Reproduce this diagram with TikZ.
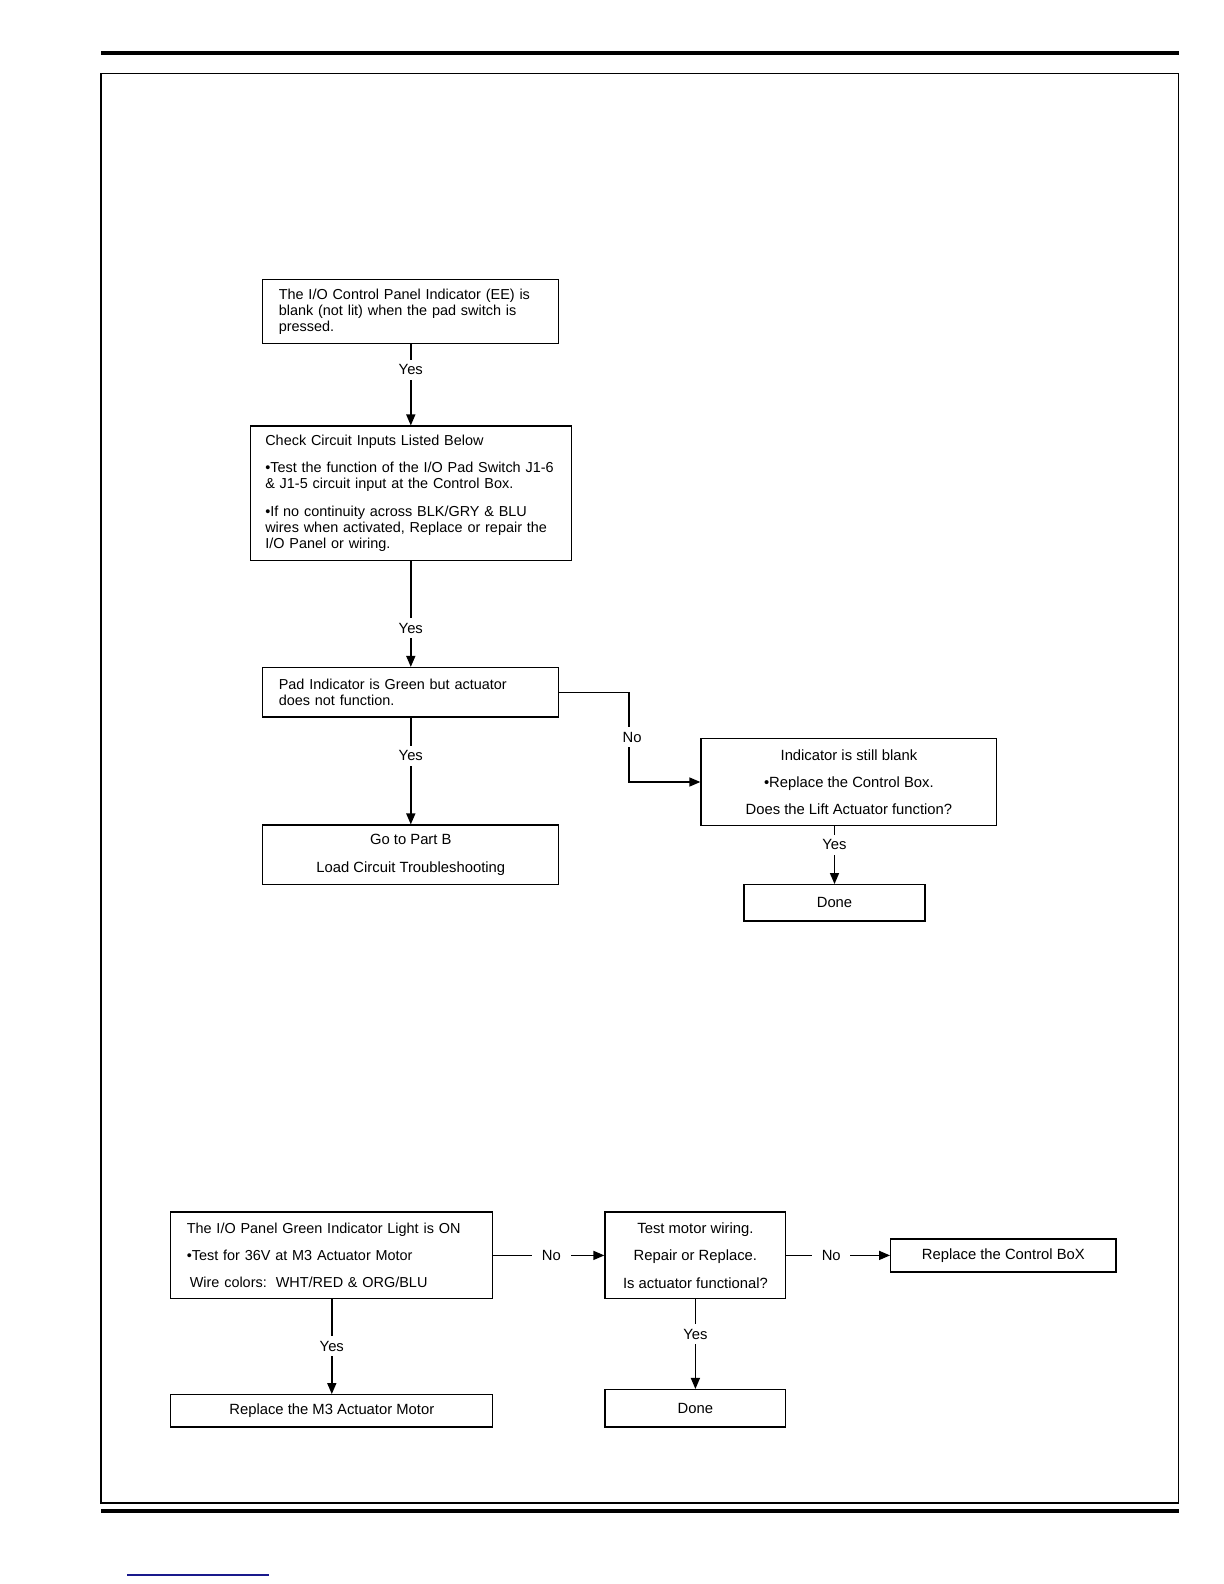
\documentclass[tikz,border=0pt]{standalone}
\usepackage{fontspec}
\setmainfont{Liberation Sans}
\usetikzlibrary{arrows.meta}
\definecolor{navyline}{RGB}{25,25,140}
\newcommand{\fsz}{\fontsize{7.4}{8.1}\selectfont}
\newcommand{\lfsz}{\fontsize{7.22}{8.1}\selectfont}
\begin{document}
\begin{tikzpicture}[x=0.5pt,y=-0.5pt,
  box/.style={draw, line width=0.65pt, inner sep=0pt, font=\fsz},
  lbox/.style={box, align=left, inner xsep=8pt, font=\lfsz},
  cbox/.style={box, align=center},
  arr/.style={line width=0.75pt, -{Triangle[length=5.5pt,width=4.5pt]}},
  lab/.style={fill=white, inner xsep=2pt, inner ysep=2.4pt, font=\fsz},
  hlab/.style={lab, inner xsep=4.9pt},
  bar/.style={line width=2pt}]
\useasboundingbox (0,0) rectangle (1224,1584);
\fill[white] (0,0) rectangle (1224,1584);
% page frame
\draw[bar] (101,53) -- (1179,53);
\draw[line width=0.7pt] (101,73.5) rectangle (1178.5,1503);
\draw[bar] (101,1511) -- (1179,1511);
\draw[navyline, line width=0.6pt] (127,1575) -- (269,1575);

% upper chart
\node[lbox, minimum width=148pt, minimum height=31.85pt, text width=132pt] (b1) at (410.8,311.5)
  {The I/O Control Panel Indicator (EE) is\\ blank (not lit) when the pad switch is\\ pressed.};
\node[lbox, inner xsep=7.5pt, minimum width=160.5pt, minimum height=67.2pt, text width=145.5pt] (b2) at (410.8,493.3)
  {Check Circuit Inputs Listed Below\\[5.7pt] •Test the function of the I/O Pad Switch J1-6\\ \& J1-5 circuit input at the Control Box.\\[5.7pt] •If no continuity across BLK/GRY \& BLU\\ wires when activated, Replace or repair the\\ I/O Panel or wiring.};
\node[lbox, minimum width=148pt, minimum height=24.75pt, text width=132pt] (b3) at (410.8,692.3)
  {Pad Indicator is Green but actuator\\ does not function.};
\node[cbox, minimum width=148pt, minimum height=29.85pt] (b4) at (410.8,854.9)
  {Go to Part B\\[5.55pt] Load Circuit Troubleshooting};
\node[cbox, minimum width=147.9pt, minimum height=43.3pt] (b5) at (848.9,782)
  {Indicator is still blank\\[5.55pt] •Replace the Control Box.\\[5.55pt] Does the Lift Actuator function?};
\node[cbox, minimum width=90.5pt, minimum height=18.2pt] (done1) at (834.5,902.9) {Done};

\draw[arr] (b1) -- node[lab, pos=0.317] {Yes} (b2);
\draw[arr] (b2) -- node[lab, pos=0.633] {Yes} (b3);
\draw[arr] (b3) -- node[lab, pos=0.356] {Yes} (b4);
\coordinate (c1) at (629.2,692.3);
\draw[arr] (b3.east) -- (c1) |- node[lab, pos=0.25, xshift=1.5pt] {No} (b5.west);
\draw[arr] (b5.south -| done1.north) -- node[lab, pos=0.32] {Yes} (done1.north);

% lower chart
\node[lbox, minimum width=161pt, minimum height=43.4pt, text width=145pt] (b6) at (331.8,1255.4)
  {The I/O Panel Green Indicator Light is ON\\[5.55pt] •Test for 36V at M3 Actuator Motor\\[5.55pt] \hspace*{1.5pt}Wire colors:\hspace{4.5pt}WHT/RED \& ORG/BLU};
\node[cbox, minimum width=90.4pt, minimum height=43.4pt] (b7) at (695.4,1255.4)
  {Test motor wiring.\\[5.55pt] Repair or Replace.\\[5.55pt] Is actuator functional?};
\node[cbox, minimum width=112.7pt, minimum height=16.5pt] (b8) at (1003.4,1255.4) {Replace the Control BoX};
\node[cbox, minimum width=161pt, minimum height=16.2pt] (b9) at (331.8,1410.9) {Replace the M3 Actuator Motor};
\node[cbox, minimum width=90.4pt, minimum height=18.7pt] (done2) at (695.4,1408.3) {Done};

\draw[arr] (b6) -- node[hlab, pos=0.522] {No} (b7);
\draw[arr] (b7) -- node[hlab, pos=0.432] {No} (b8);
\draw[arr] (b6) -- node[lab, pos=0.495] {Yes} (b9);
\draw[arr] (b7) -- node[lab, pos=0.39] {Yes} (done2);
\end{tikzpicture}
\end{document}
